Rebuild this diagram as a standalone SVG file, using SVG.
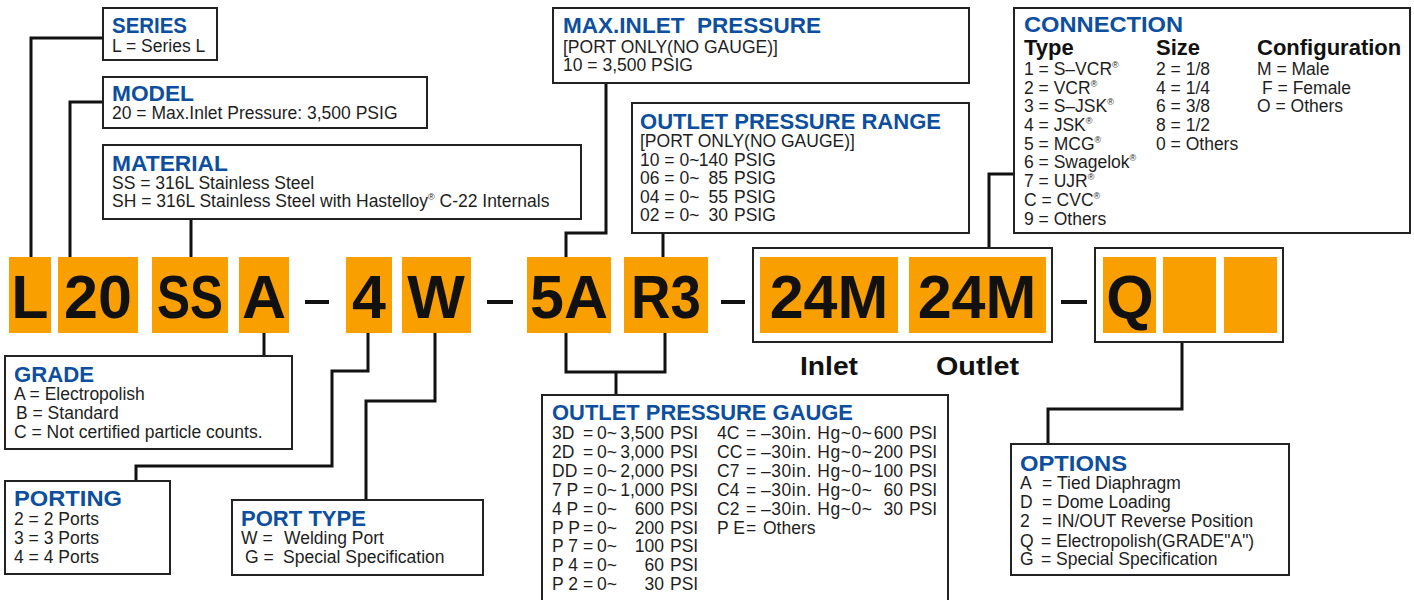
<svg xmlns="http://www.w3.org/2000/svg" width="1414" height="600" viewBox="0 0 1414 600">
<style>
.bx{fill:#fff;stroke:#222;stroke-width:2}
.fr{fill:none;stroke:#222;stroke-width:2}
.or{fill:#f9a000}
.t{font-family:"Liberation Sans",Arial,sans-serif;font-weight:bold;font-size:22px;fill:#0d4f9e}
.b{font-family:"Liberation Sans",Arial,sans-serif;font-size:17.5px;fill:#1e1e1e}
.h{font-family:"Liberation Sans",Arial,sans-serif;font-weight:bold;font-size:22px;fill:#111}
.big{font-family:"Liberation Sans",Arial,sans-serif;font-weight:bold;font-size:61px;fill:#111;text-anchor:middle}
.lbl{font-family:"Liberation Sans",Arial,sans-serif;font-weight:bold;font-size:25px;fill:#111}
.r{font-size:9px}
.cn{fill:none;stroke:#111;stroke-width:3}
.e{text-anchor:end}
</style>
<rect width="1414" height="600" fill="#fff"/>

<g id="connectors">
<path class="cn" d="M103,38 H31 V257"/>
<path class="cn" d="M103,102 H70 V257"/>
<path class="cn" d="M191,219 V257"/>
<path class="cn" d="M606,83 V233 H566 V257"/>
<path class="cn" d="M663,233 V257"/>
<path class="cn" d="M1014,174 H989 V248"/>
<path class="cn" d="M264,333 V356"/>
<path class="cn" d="M368,333 V371 H332 V466 H136 V481"/>
<path class="cn" d="M435,333 V401 H366 V500"/>
<path class="cn" d="M566,333 V372 H665 V333"/>
<path class="cn" d="M616,372 V395"/>
<path class="cn" d="M1182,342 V409 H1048 V444"/>
</g>

<g id="code">
<rect class="or" x="9" y="257" width="42" height="76"/>
<text class="big" x="30" y="318">L</text>
<rect class="or" x="58" y="257" width="80" height="76"/>
<text class="big" x="98" y="318">20</text>
<rect class="or" x="152" y="257" width="76" height="76"/>
<text class="big" x="190" y="318" textLength="66" lengthAdjust="spacingAndGlyphs">SS</text>
<rect class="or" x="239" y="257" width="50" height="76"/>
<text class="big" x="264" y="318">A</text>
<rect x="305" y="300" width="24" height="4" fill="#111"/>
<rect class="or" x="346" y="257" width="46" height="76"/>
<text class="big" x="369" y="318">4</text>
<rect class="or" x="402" y="257" width="69" height="76"/>
<text class="big" x="436" y="318">W</text>
<rect x="487" y="300" width="26" height="4" fill="#111"/>
<rect class="or" x="527" y="257" width="84" height="76"/>
<text class="big" x="569" y="318">5A</text>
<rect class="or" x="624" y="257" width="84" height="76"/>
<text class="big" x="666" y="318" textLength="70" lengthAdjust="spacingAndGlyphs">R3</text>
<rect x="721" y="300" width="24" height="4" fill="#111"/>
<rect class="fr" x="753" y="248" width="299" height="94"/>
<rect class="or" x="760" y="257" width="138" height="76"/>
<text class="big" x="829" y="318">24M</text>
<rect class="or" x="909" y="257" width="137" height="76"/>
<text class="big" x="977" y="318">24M</text>
<rect x="1061" y="300" width="26" height="4" fill="#111"/>
<rect class="fr" x="1095" y="248" width="188" height="94"/>
<rect class="or" x="1103" y="257" width="53" height="76"/>
<text class="big" x="1130" y="318">Q</text>
<rect class="or" x="1163" y="257" width="53" height="76"/>
<rect class="or" x="1224" y="257" width="53" height="76"/>
<text class="lbl" x="800" y="375" textLength="58" lengthAdjust="spacingAndGlyphs">Inlet</text>
<text class="lbl" x="936" y="375" textLength="83" lengthAdjust="spacingAndGlyphs">Outlet</text>
</g>

<g id="series">
<rect class="bx" x="103" y="8" width="114" height="52"/>
<text class="t" x="112" y="33" textLength="75" lengthAdjust="spacingAndGlyphs">SERIES</text>
<text class="b" x="112" y="52">L = Series L</text>
</g>

<g id="model">
<rect class="bx" x="103" y="77" width="324" height="51"/>
<text class="t" x="112" y="101" textLength="82" lengthAdjust="spacingAndGlyphs">MODEL</text>
<text class="b" x="112" y="119">20 = Max.Inlet Pressure: 3,500 PSIG</text>
</g>

<g id="material">
<rect class="bx" x="103" y="145" width="478" height="74"/>
<text class="t" x="112" y="171" textLength="116" lengthAdjust="spacingAndGlyphs">MATERIAL</text>
<text class="b" x="112" y="189">SS = 316L Stainless Steel</text>
<text class="b" x="112" y="207">SH = 316L Stainless Steel with Hastelloy<tspan class="r" dy="-7">®</tspan><tspan dy="7"> C-22 Internals</tspan></text>
</g>

<g id="max-inlet">
<rect class="bx" x="553" y="8" width="416" height="75"/>
<text class="t" x="563" y="33" textLength="258" lengthAdjust="spacingAndGlyphs" xml:space="preserve">MAX.INLET  PRESSURE</text>
<text class="b" x="563" y="53">[PORT ONLY(NO GAUGE)]</text>
<text class="b" x="563" y="71">10 = 3,500 PSIG</text>
</g>

<g id="outlet-range">
<rect class="bx" x="632" y="103" width="337" height="130"/>
<text class="t" x="640" y="129" textLength="301" lengthAdjust="spacingAndGlyphs">OUTLET PRESSURE RANGE</text>
<text class="b" x="640" y="147">[PORT ONLY(NO GAUGE)]</text>
<text class="b" y="166"><tspan x="640">10 = 0~</tspan><tspan class="e" x="728">140</tspan><tspan x="734">PSIG</tspan></text>
<text class="b" y="184"><tspan x="640">06 = 0~</tspan><tspan class="e" x="728">85</tspan><tspan x="734">PSIG</tspan></text>
<text class="b" y="203"><tspan x="640">04 = 0~</tspan><tspan class="e" x="728">55</tspan><tspan x="734">PSIG</tspan></text>
<text class="b" y="221"><tspan x="640">02 = 0~</tspan><tspan class="e" x="728">30</tspan><tspan x="734">PSIG</tspan></text>
</g>

<g id="connection">
<rect class="bx" x="1014" y="8" width="396" height="225"/>
<text class="t" x="1024" y="32" textLength="159" lengthAdjust="spacingAndGlyphs">CONNECTION</text>
<text class="h" x="1024" y="55">Type</text>
<text class="h" x="1156" y="55">Size</text>
<text class="h" x="1257" y="55">Configuration</text>
<text class="b" x="1024" y="75">1 = S–VCR<tspan class="r" dy="-7">®</tspan></text>
<text class="b" x="1024" y="94">2 = VCR<tspan class="r" dy="-7">®</tspan></text>
<text class="b" x="1024" y="112">3 = S–JSK<tspan class="r" dy="-7">®</tspan></text>
<text class="b" x="1024" y="131">4 = JSK<tspan class="r" dy="-7">®</tspan></text>
<text class="b" x="1024" y="150">5 = MCG<tspan class="r" dy="-7">®</tspan></text>
<text class="b" x="1024" y="168">6 = Swagelok<tspan class="r" dy="-7">®</tspan></text>
<text class="b" x="1024" y="187">7 = UJR<tspan class="r" dy="-7">®</tspan></text>
<text class="b" x="1024" y="206">C = CVC<tspan class="r" dy="-7">®</tspan></text>
<text class="b" x="1024" y="225">9 = Others</text>
<text class="b" x="1156" y="75">2 = 1/8</text>
<text class="b" x="1156" y="94">4 = 1/4</text>
<text class="b" x="1156" y="112">6 = 3/8</text>
<text class="b" x="1156" y="131">8 = 1/2</text>
<text class="b" x="1156" y="150">0 = Others</text>
<text class="b" x="1257" y="75">M = Male</text>
<text class="b" x="1262" y="94">F = Female</text>
<text class="b" x="1257" y="112">O = Others</text>
</g>

<g id="grade">
<rect class="bx" x="5" y="356" width="287" height="93"/>
<text class="t" x="14" y="382" textLength="80" lengthAdjust="spacingAndGlyphs">GRADE</text>
<text class="b" x="14" y="400">A = Electropolish</text>
<text class="b" x="16" y="419">B = Standard</text>
<text class="b" x="14" y="438">C = Not certified particle counts.</text>
</g>

<g id="porting">
<rect class="bx" x="5" y="481" width="165" height="93"/>
<text class="t" x="14" y="506" textLength="108" lengthAdjust="spacingAndGlyphs">PORTING</text>
<text class="b" x="14" y="525">2 = 2 Ports</text>
<text class="b" x="14" y="544">3 = 3 Ports</text>
<text class="b" x="14" y="563">4 = 4 Ports</text>
</g>

<g id="port-type">
<rect class="bx" x="232" y="500" width="251" height="75"/>
<text class="t" x="241" y="526" textLength="125" lengthAdjust="spacingAndGlyphs">PORT TYPE</text>
<text class="b" y="544"><tspan x="241">W =</tspan><tspan x="284">Welding Port</tspan></text>
<text class="b" y="563"><tspan x="245">G =</tspan><tspan x="283">Special Specification</tspan></text>
</g>

<g id="outlet-gauge">
<rect class="bx" x="542" y="395" width="406" height="212"/>
<text class="t" x="552" y="420" textLength="301" lengthAdjust="spacingAndGlyphs">OUTLET PRESSURE GAUGE</text>
<text class="b" y="439"><tspan x="552">3D</tspan><tspan x="583">=</tspan><tspan x="597">0~</tspan><tspan class="e" x="664">3,500</tspan><tspan x="670">PSI</tspan></text>
<text class="b" y="458"><tspan x="552">2D</tspan><tspan x="583">=</tspan><tspan x="597">0~</tspan><tspan class="e" x="664">3,000</tspan><tspan x="670">PSI</tspan></text>
<text class="b" y="477"><tspan x="552">DD</tspan><tspan x="583">=</tspan><tspan x="597">0~</tspan><tspan class="e" x="664">2,000</tspan><tspan x="670">PSI</tspan></text>
<text class="b" y="496"><tspan x="552">7 P</tspan><tspan x="583">=</tspan><tspan x="597">0~</tspan><tspan class="e" x="664">1,000</tspan><tspan x="670">PSI</tspan></text>
<text class="b" y="515"><tspan x="552">4 P</tspan><tspan x="583">=</tspan><tspan x="597">0~</tspan><tspan class="e" x="664">600</tspan><tspan x="670">PSI</tspan></text>
<text class="b" y="534"><tspan x="552">P P</tspan><tspan x="583">=</tspan><tspan x="597">0~</tspan><tspan class="e" x="664">200</tspan><tspan x="670">PSI</tspan></text>
<text class="b" y="552"><tspan x="552">P 7</tspan><tspan x="583">=</tspan><tspan x="597">0~</tspan><tspan class="e" x="664">100</tspan><tspan x="670">PSI</tspan></text>
<text class="b" y="571"><tspan x="552">P 4</tspan><tspan x="583">=</tspan><tspan x="597">0~</tspan><tspan class="e" x="664">60</tspan><tspan x="670">PSI</tspan></text>
<text class="b" y="590"><tspan x="552">P 2</tspan><tspan x="583">=</tspan><tspan x="597">0~</tspan><tspan class="e" x="664">30</tspan><tspan x="670">PSI</tspan></text>
<text class="b" y="439"><tspan x="717">4C</tspan><tspan x="746">=</tspan><tspan x="761" textLength="111">–30in. Hg~0~</tspan><tspan class="e" x="903">600</tspan><tspan x="909">PSI</tspan></text>
<text class="b" y="458"><tspan x="717">CC</tspan><tspan x="746">=</tspan><tspan x="761" textLength="111">–30in. Hg~0~</tspan><tspan class="e" x="903">200</tspan><tspan x="909">PSI</tspan></text>
<text class="b" y="477"><tspan x="717">C7</tspan><tspan x="746">=</tspan><tspan x="761" textLength="111">–30in. Hg~0~</tspan><tspan class="e" x="903">100</tspan><tspan x="909">PSI</tspan></text>
<text class="b" y="496"><tspan x="717">C4</tspan><tspan x="746">=</tspan><tspan x="761" textLength="111">–30in. Hg~0~</tspan><tspan class="e" x="903">60</tspan><tspan x="909">PSI</tspan></text>
<text class="b" y="515"><tspan x="717">C2</tspan><tspan x="746">=</tspan><tspan x="761" textLength="111">–30in. Hg~0~</tspan><tspan class="e" x="903">30</tspan><tspan x="909">PSI</tspan></text>
<text class="b" y="534"><tspan x="717">P E</tspan><tspan x="746">=</tspan><tspan x="763">Others</tspan></text>
</g>

<g id="options">
<rect class="bx" x="1011" y="444" width="278" height="131"/>
<text class="t" x="1020" y="471" textLength="107" lengthAdjust="spacingAndGlyphs">OPTIONS</text>
<text class="b" y="489"><tspan x="1020">A</tspan><tspan x="1042">=</tspan><tspan x="1057">Tied Diaphragm</tspan></text>
<text class="b" y="508"><tspan x="1020">D</tspan><tspan x="1042">=</tspan><tspan x="1057">Dome Loading</tspan></text>
<text class="b" y="527"><tspan x="1020">2</tspan><tspan x="1042">=</tspan><tspan x="1057">IN/OUT Reverse Position</tspan></text>
<text class="b" y="547"><tspan x="1020">Q</tspan><tspan x="1041">=</tspan><tspan x="1056">Electropolish(GRADE"A")</tspan></text>
<text class="b" y="565"><tspan x="1020">G</tspan><tspan x="1041">=</tspan><tspan x="1056">Special Specification</tspan></text>
</g>
</svg>
